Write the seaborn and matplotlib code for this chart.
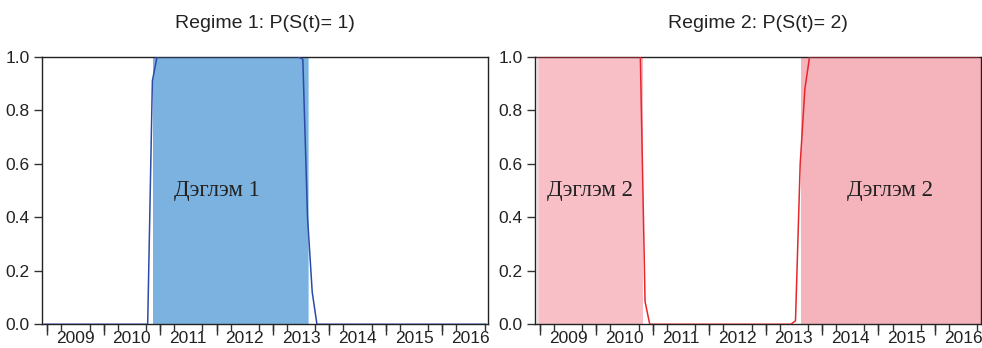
import numpy as np
import pandas as pd
import matplotlib as mpl
mpl.use('Agg')
import matplotlib.pyplot as plt
import seaborn as sns

# monthly observations, index 0 = 2009M01 (data starts 2008M12)
months = list(range(-1, 94))

# smoothed probabilities
prob_regime1 = [0.0] * 23 + [0.91] + [1.0] * 31 + [0.99, 0.40, 0.12] + [0.0] * 37
prob_regime2 = [1.0] * 23 + [0.085] + [0.0] * 31 + [0.013, 0.60, 0.88] + [1.0] * 37

years = ['2009', '2010', '2011', '2012', '2013', '2014', '2015', '2016']

# shaded regime periods (month index)
regime1_spans = [(22.15, 55.0)]
regime1_edge = [(55.0, 55.4)]
regime2_spans = [(-0.55, 21.5), (55.2, 93.42)]
regime2_edge = [(-1.05, -0.55)]

titles = ['Regime 1: P(S(t)= 1)', 'Regime 2: P(S(t)= 2)']
labels = ['Дэглэм 1', 'Дэглэм 2']
label_pos = [[(35.7, 0.5)], [(10.3, 0.5), (74.1, 0.5)]]

OFF = 0.35  # plotted offset of observations from tick marks

sns.set_theme(style='ticks')
plt.rcParams['font.family'] = ['Liberation Sans', 'DejaVu Sans']

df = pd.DataFrame({'month': months, 'p1': prob_regime1, 'p2': prob_regime2})

fig = plt.figure(figsize=(9.82, 3.48), dpi=100)
ax1 = fig.add_axes([0.0431, 0.0681, 0.4540, 0.7690])
ax2 = fig.add_axes([0.5448, 0.0681, 0.4540, 0.7690])

panels = [
    (ax1, 'p1', '#2C4BA8', [(regime1_spans, '#7BB2DF'), (regime1_edge, '#A9D3F2')]),
    (ax2, 'p2', '#E8262D', [(regime2_spans[:1], '#F8BFC6'), (regime2_spans[1:], '#F5B3BC'),
                           (regime2_edge, '#FAD3D7')]),
]

for i, (ax, col, lc, shades) in enumerate(panels):
    for spans, sc in shades:
        for a, b in spans:
            ax.axvspan(a, b, color=sc, lw=0, zorder=0)
    sns.lineplot(data=df, x='month', y=col, color=lc, lw=1.1, ax=ax, zorder=3)
    for x, y in label_pos[i]:
        ax.text(x, y, labels[i], ha='center', va='center', fontsize=16.5,
                family=['Liberation Serif', 'DejaVu Serif'], color='#222222')

    ax.set_xlim(-1.41, 93.42)
    ax.set_ylim(0, 1)
    ax.set_yticks(np.arange(0, 1.01, 0.2))
    ax.set_yticklabels(['%.1f' % v for v in np.arange(0, 1.01, 0.2)])
    ax.set_xticks([12 * k + 6 - OFF for k in range(len(years))])
    ax.set_xticklabels(years)
    ax.set_xticks([3 * j - OFF for j in range(32)], minor=True)
    ax.tick_params(axis='x', which='major', length=0, pad=5, labelsize=12.5, colors='#222222')
    ax.tick_params(axis='x', which='minor', length=5, width=1, color='#333333')
    ax.tick_params(axis='y', length=6, width=1, pad=3, labelsize=12.5, colors='#222222')
    ax.tick_params(axis='y', color='#333333')

    sec = ax.secondary_xaxis('bottom')
    sec.set_xticks([12 * k - OFF for k in range(len(years))])
    sec.set_xticklabels([])
    sec.tick_params(length=8, width=1, color='#333333')
    sec.spines['bottom'].set_visible(False)

    for s in ax.spines.values():
        s.set_visible(True)
        s.set_color('#222222')
        s.set_linewidth(1.0)

    ax.set_xlabel('')
    ax.set_ylabel('')
    ax.set_title(titles[i], fontsize=14, pad=21, color='#222222')

fig.savefig('out.png', dpi=100)
